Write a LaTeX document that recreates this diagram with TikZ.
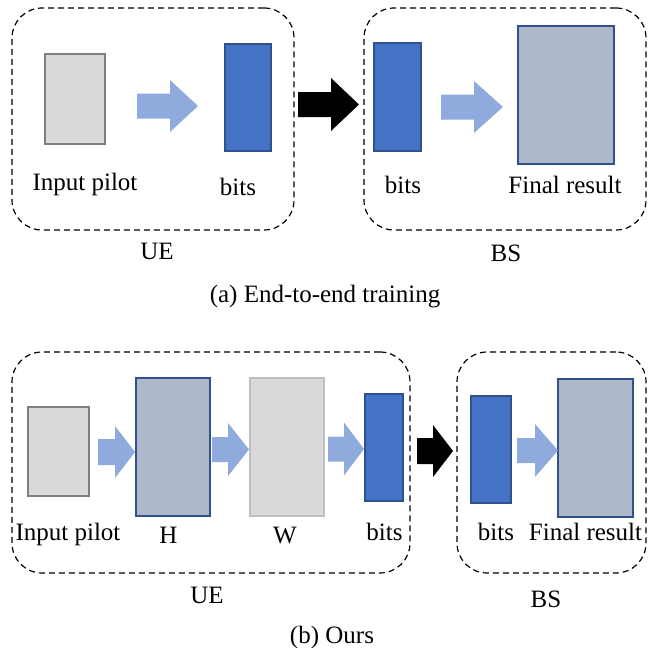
\documentclass[tikz,border=0pt]{standalone}
\usepackage{fontspec}
\setmainfont{Liberation Serif}
\definecolor{lgray}{HTML}{D9D9D9}
\definecolor{dgrayline}{HTML}{7F7F7F}
\definecolor{wline}{HTML}{BFBFBF}
\definecolor{bitsfill}{HTML}{4472C4}
\definecolor{blueline}{HTML}{2F528F}
\definecolor{slate}{HTML}{ADB9CA}
\definecolor{arrblue}{HTML}{8FAADC}
\newcommand\blockarr[7]{%
  \fill[#1] ({#2},{#5-#6}) -- ({#3},{#5-#6}) -- ({#3},{#5-#7}) -- ({#4},{#5})
    -- ({#3},{#5+#7}) -- ({#3},{#5+#6}) -- ({#2},{#5+#6}) -- cycle;}
\begin{document}
\begin{tikzpicture}[x=1pt,y=-1pt,
  every node/.style={font=\fontsize{25}{30}\selectfont, inner sep=0pt},
  groupbox/.style={draw=black, dash pattern=on 6pt off 4pt, line width=1.2pt, rounded corners=30pt},
  pilotbox/.style={draw=dgrayline, fill=lgray, line width=1.3pt},
  wbox/.style={draw=wline, fill=lgray, line width=1.3pt},
  bitsbox/.style={draw=blueline, fill=bitsfill, line width=1.1pt},
  slatebox/.style={draw=blueline, fill=slate, line width=1.1pt},
  lbl/.style={anchor=base}]
\useasboundingbox (0,0) rectangle (662,654);
% ---------- (a) ----------
\node[groupbox, minimum width=282pt, minimum height=222pt] (ue1) at (153,119) {};
\node[groupbox, minimum width=282pt, minimum height=222pt] (bs1) at (505,119) {};
\node[pilotbox, minimum width=60pt, minimum height=90pt] (pilot1) at (75,99) {};
\node[bitsbox, minimum width=46pt, minimum height=107pt] (bitsA) at (248,97.5) {};
\node[bitsbox, minimum width=47pt, minimum height=108pt] (bitsB) at (397.5,97) {};
\node[slatebox, minimum width=96pt, minimum height=138pt] (final1) at (566,95) {};
\blockarr{arrblue}{137}{170}{198}{106}{12.5}{26}
\blockarr{arrblue}{441}{474}{503}{107}{12.5}{26}
\blockarr{black}{298}{331}{359}{104.5}{12.5}{26.5}
\node[lbl] (t1) at (85,190) {Input pilot};
\node[lbl] (t2) at (238,195) {bits};
\node[lbl] (t3) at (403,193) {bits};
\node[lbl] (t4) at (565,193) {Final result};
\node[lbl] (t5) at (157,259) {UE};
\node[lbl] (t6) at (506,261) {BS};
\node[lbl] (capa) at (325,302) {(a) End-to-end training};
% ---------- (b) ----------
\node[groupbox, minimum width=398pt, minimum height=221pt] (ue2) at (211,462.5) {};
\node[groupbox, minimum width=189pt, minimum height=221pt] (bs2) at (551.5,462.5) {};
\node[pilotbox, minimum width=61pt, minimum height=89pt] (pilot2) at (58.5,451.5) {};
\node[slatebox, minimum width=74pt, minimum height=138pt] (H) at (173,447) {};
\node[wbox, minimum width=74pt, minimum height=138pt] (W) at (287,447) {};
\node[bitsbox, minimum width=38pt, minimum height=107pt] (bitsC) at (384,447.5) {};
\node[bitsbox, minimum width=40pt, minimum height=107pt] (bitsD) at (491,449.5) {};
\node[slatebox, minimum width=75pt, minimum height=138pt] (final2) at (595.5,448) {};
\blockarr{arrblue}{98}{115}{135}{452}{13}{26}
\blockarr{arrblue}{212}{228}{249}{449.5}{12.5}{26.5}
\blockarr{arrblue}{328}{344}{364}{449}{12.5}{26.5}
\blockarr{black}{417}{433}{453}{451}{13}{26}
\blockarr{arrblue}{517}{535}{558}{450.5}{12.5}{26.5}
\node[lbl] (u1) at (68,540) {Input pilot};
\node[lbl] (u2) at (168.5,543) {H};
\node[lbl] (u3) at (285,543) {W};
\node[lbl] (u4) at (384.5,540) {bits};
\node[lbl] (u5) at (496,540) {bits};
\node[lbl] (u6) at (585.5,540) {Final result};
\node[lbl] (u7) at (207,603) {UE};
\node[lbl] (u8) at (546,607) {BS};
\node[lbl] (capb) at (332,643) {(b) Ours};
\end{tikzpicture}
\end{document}
